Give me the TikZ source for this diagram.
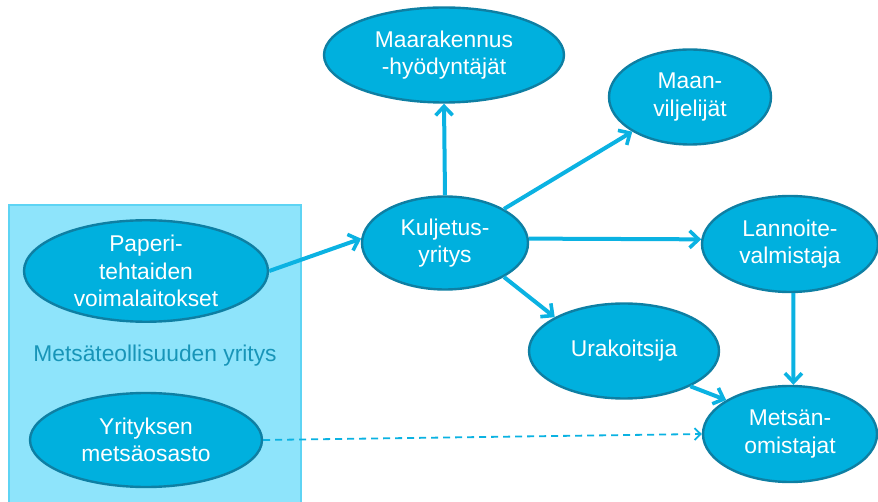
\documentclass[tikz,border=0pt]{standalone}
\usepackage{fontspec}
\setmainfont{Liberation Sans}
\usetikzlibrary{shapes.geometric,arrows.meta}

\definecolor{nodefill}{HTML}{00B0DE}
\definecolor{nodeline}{HTML}{0E7FA3}
\definecolor{flow}{HTML}{0BB2E2}
\definecolor{groupfill}{HTML}{8EE4FB}
\definecolor{groupline}{HTML}{5ED4F4}
\definecolor{grouptext}{HTML}{1895B8}

\tikzset{
  actor/.style={ellipse, draw=nodeline, line width=2.4pt, fill=nodefill,
    text=white, align=center, inner sep=0pt,
    font=\fontsize{22.8}{27.5}\selectfont},
  flowarrow/.style={draw=flow, line width=4pt,
    -{Straight Barb[length=9pt,width=17pt,line width=3.6pt]}},
  infoarrow/.style={draw=flow, line width=1.8pt, dash pattern=on 7pt off 5pt,
    -{Straight Barb[length=6pt,width=12pt,line width=1.8pt]}}
}

\begin{document}
\begin{tikzpicture}[x=1pt,y=-1pt]
\useasboundingbox (0,0) rectangle (878,502);

% forest industry company group
\draw[fill=groupfill, draw=groupline, line width=2.2pt] (9,205) rectangle (301,508);
\node[text=grouptext, font=\fontsize{22.8}{27.5}\selectfont] (grp) at (155,356) {Metsäteollisuuden yritys};

% actors
\node[actor, minimum width=244pt, minimum height=92pt] (pap) at (146,271) {Paperi-\\tehtaiden\\voimalaitokset};
\node[actor, minimum width=232pt, minimum height=94pt] (yri) at (146,440) {Yrityksen\\metsäosasto};
\node[actor, minimum width=166pt, minimum height=93pt] (kul) at (445,243) {Kuljetus-\\yritys};
\node[actor, minimum width=240pt, minimum height=95pt] (mar) at (444,55) {Maarakennus\\-hyödyntäjät};
\node[actor, minimum width=162pt, minimum height=95pt] (mvi) at (690,97) {Maan-\\viljelijät};
\node[actor, minimum width=176pt, minimum height=96pt] (lan) at (790,244) {Lannoite-\\valmistaja};
\node[actor, minimum width=174pt, minimum height=96pt] (met) at (790,434) {Metsän-\\omistajat};
\node[actor, minimum width=190pt, minimum height=95pt] (ura) at (624,351) {Urakoitsija};

% material flows
\draw[flowarrow] (pap.east) -- (kul.177);
\draw[flowarrow] (kul.north) -- (mar.south);
\draw[flowarrow] (kul.30) -- (mvi.211);
\draw[flowarrow] (kul.3) -- (lan.177);
\draw[flowarrow] (kul.-30) -- (ura.154);
\draw[flowarrow] (lan.-86) -- (met.86);
\draw[flowarrow] (ura.-28) -- (met.152);

% information flow
\draw[infoarrow] (yri.east) -- (met.west);
\end{tikzpicture}
\end{document}
